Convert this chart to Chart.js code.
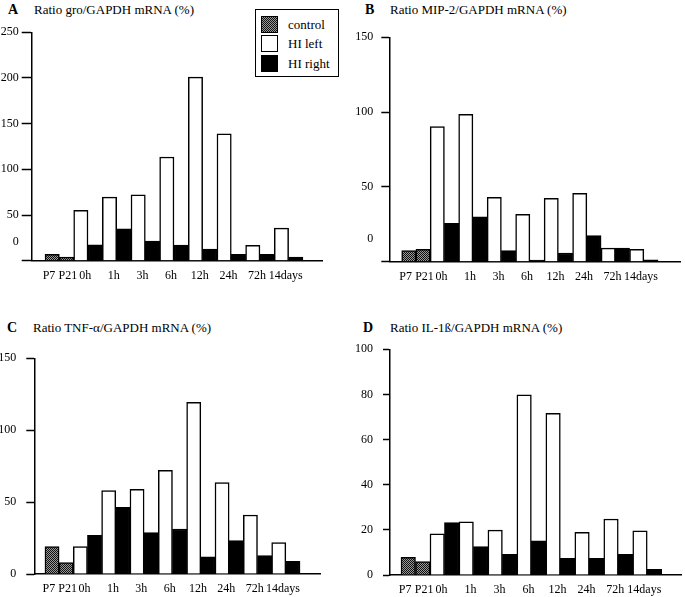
<!DOCTYPE html>
<html>
<head>
<meta charset="utf-8">
<script src="https://cdn.jsdelivr.net/npm/chart.js@4.4.0/dist/chart.umd.min.js"></script>
<style>
html,body{margin:0;padding:0;background:#fff;}
body{width:685px;height:597px;position:relative;overflow:hidden;font-family:'Liberation Serif','Times New Roman',serif;color:#000;}
canvas{position:absolute;}
.ttl{position:absolute;font-size:13px;line-height:13px;white-space:nowrap;}
.ttl.letter{font-weight:bold;font-size:14px;}
#legend{position:absolute;left:255px;top:9px;width:84px;height:68px;border:1.5px solid #000;box-sizing:border-box;background:#fff;z-index:5;}
#legend .row{position:absolute;left:5px;height:17px;}
#legend .sw{position:absolute;left:0;top:0;width:17px;height:17px;box-sizing:border-box;border:1.5px solid #000;}
#legend .tx{position:absolute;left:27px;top:0;font-size:13px;line-height:17px;white-space:nowrap;}
.sw.control{background:repeating-conic-gradient(#111 0 25%, #999 0 50%) 0 0/2px 2px;}
.sw.left{background:#fff;}
.sw.right{background:#000;}
</style>
</head>
<body>
<div class="ttl letter" style="left:8px;top:3px;">A</div>
<div class="ttl" style="left:34px;top:3px;">Ratio gro/GAPDH mRNA (%)</div>
<div class="ttl letter" style="left:365px;top:3px;">B</div>
<div class="ttl" style="left:390px;top:3px;">Ratio MIP-2/GAPDH mRNA (%)</div>
<div class="ttl letter" style="left:7px;top:321px;">C</div>
<div class="ttl" style="left:33px;top:321px;">Ratio TNF-α/GAPDH mRNA (%)</div>
<div class="ttl letter" style="left:363px;top:321px;">D</div>
<div class="ttl" style="left:390px;top:321px;">Ratio IL-1ß/GAPDH mRNA (%)</div>
<div id="legend"></div>

<canvas id="cA" width="342" height="295" style="left:0;top:0;"></canvas>
<canvas id="cB" width="343" height="295" style="left:342px;top:0;"></canvas>
<canvas id="cC" width="342" height="297" style="left:0;top:300px;"></canvas>
<canvas id="cD" width="343" height="297" style="left:342px;top:300px;"></canvas>

<script>
// ---- categories ----
const controlLabels = ['P7', 'P21'];
const timeLabels = ['0h', '1h', '3h', '6h', '12h', '24h', '72h', '14days'];
const seriesNames = ['control', 'HI left', 'HI right'];

// ---- A: gro ----
const groControl = [7, 4];
const groLeft  = [55, 69.5, 72, 113.5, 201, 139, 16.7, 35.6];
const groRight = [17.5, 35, 21.5, 17, 12.7, 7, 7, 4];
const groTicks = [0, 21, 50, 100, 150, 200, 250];
const groTickLabels = ['', '0', '50', '100', '150', '200', '250'];

// ---- B: MIP-2 ----
const mipControl = [7.4, 8.2];
const mipLeft  = [90.3, 98.5, 43, 31.6, 42.3, 45.7, 9.1, 8.2];
const mipRight = [25.6, 30, 7.4, 1.1, 5.8, 17.4, 9.1, 1.3];
const mipTicks = [0, 15, 50, 100, 150];
const mipTickLabels = ['', '0', '50', '100', '150'];

// ---- C: TNF-alpha ----
const tnfControl = [19, 7.9];
const tnfLeft  = [19, 58, 58.9, 72.1, 119.4, 63.5, 41, 21.8];
const tnfRight = [26.9, 46.4, 28.8, 31.3, 12, 23.2, 12.8, 8.8];
const tnfTicks = [0, 50, 100, 150];
const tnfTickLabels = ['0', '50', '100', '150'];

// ---- D: IL-1beta ----
const il1Control = [7.8, 5.9];
const il1Left  = [18.2, 23.6, 19.9, 79.8, 71.6, 18.9, 24.8, 19.6];
const il1Right = [23.2, 12.6, 9.2, 15.1, 7.4, 7.4, 9.2, 2.5];
const il1Ticks = [0, 20, 40, 60, 80, 100];
const il1TickLabels = ['0', '20', '40', '60', '80', '100'];

// x tick labels derived from the categories (label sits slightly left of pair centre, as in the figure)
const nC = controlLabels.length;
const xTickLabels = controlLabels.concat(timeLabels);
const xTickPos = [-0.22, 1.1].concat(timeLabels.map((_, i) => nC + 2 * i + 0.3));

// control bar pattern
function makePattern() {
  const c = document.createElement('canvas');
  c.width = 2; c.height = 2;
  const g = c.getContext('2d');
  g.fillStyle = '#999'; g.fillRect(0, 0, 2, 2);
  g.fillStyle = '#111'; g.fillRect(0, 0, 1, 1); g.fillRect(1, 1, 1, 1);
  return g.createPattern(c, 'repeat');
}

// legend
const legendEl = document.getElementById('legend');
const swCls = ['control', 'left', 'right'];
const rowTops = [5.5, 24.5, 45];
seriesNames.forEach((n, i) => {
  const r = document.createElement('div');
  r.className = 'row';
  r.style.top = rowTops[i] + 'px';
  r.innerHTML = '<div class="sw ' + swCls[i] + '"></div><div class="tx">' + n + '</div>';
  legendEl.appendChild(r);
});

Chart.defaults.font.family = "'Liberation Serif', 'Times New Roman', serif";
Chart.defaults.font.size = 12;
Chart.defaults.color = '#000';

const panels = [
  {id: 'cA', control: groControl, left: groLeft, right: groRight, yMax: 250, yTicks: groTicks, yTickLabels: groTickLabels, zeroLabelAt: 21,
   yWidth: 31.7, padding: {left: 0, top: 32.3, right: 20, bottom: 12.3}, xMin: -1.43, xMax: 18.83, tickLen: 10, tickPad: 3},
  {id: 'cB', control: mipControl, left: mipLeft, right: mipRight, yMax: 150, yTicks: mipTicks, yTickLabels: mipTickLabels, zeroLabelAt: 15,
   yWidth: 47.3, padding: {left: 0, top: 37.3, right: 5, bottom: 11.3}, xMin: -1.37, xMax: 19.04, tickLen: 8, tickPad: 8},
  {id: 'cC', control: tnfControl, left: tnfLeft, right: tnfRight, yMax: 150, yTicks: tnfTicks, yTickLabels: tnfTickLabels, zeroLabelAt: null,
   yWidth: 34.3, padding: {left: 0, top: 58.3, right: 22, bottom: 1}, xMin: -1.25, xMax: 18.91, tickLen: 8, tickPad: 10},
  {id: 'cD', control: il1Control, left: il1Left, right: il1Right, yMax: 100, yTicks: il1Ticks, yTickLabels: il1TickLabels, zeroLabelAt: null,
   yWidth: 48, padding: {left: 0, top: 49.3, right: 3.3, bottom: 0}, xMin: -1.26, xMax: 18.88, tickLen: 7, tickPad: 10}
];

const pattern = makePattern();

panels.forEach(p => {
  const ctrlData = p.control.map((v, i) => ({x: i, y: v}));
  const leftData = p.left.map((v, i) => ({x: nC + 2 * i, y: v}));
  const rightData = p.right.map((v, i) => ({x: nC + 2 * i + 1, y: v}));
  new Chart(document.getElementById(p.id), {
    type: 'bar',
    data: {
      datasets: [
        {label: seriesNames[0], data: ctrlData, backgroundColor: pattern, borderColor: '#000', borderWidth: 1.5},
        {label: seriesNames[1], data: leftData, backgroundColor: '#fff', borderColor: '#000', borderWidth: 1.5},
        {label: seriesNames[2], data: rightData, backgroundColor: '#000', borderColor: '#000', borderWidth: 1.5}
      ]
    },
    options: {
      responsive: false,
      animation: false,
      devicePixelRatio: 1,
      events: [],
      layout: {padding: p.padding},
      datasets: {bar: {grouped: false, barPercentage: 1, categoryPercentage: 1}},
      plugins: {legend: {display: false}, tooltip: {enabled: false}, title: {display: false}},
      scales: {
        x: {
          type: 'linear', min: p.xMin, max: p.xMax, offset: false,
          grid: {display: false, drawTicks: false, offset: false},
          border: {display: true, color: '#000', width: 1.5},
          ticks: {autoSkip: false, maxRotation: 0, minRotation: 0, padding: 8,
                  callback: (v, i) => xTickLabels[i]},
          afterBuildTicks: s => { s.ticks = xTickPos.map(v => ({value: v})); },
          afterFit: s => { s.height = 22; }
        },
        y: {
          type: 'linear', min: 0, max: p.yMax,
          grid: {display: true, drawOnChartArea: false, drawTicks: true, tickLength: p.tickLen, tickWidth: 1.5,
                 tickColor: c => (c.tick && p.zeroLabelAt !== null && c.tick.value === p.zeroLabelAt) ? 'rgba(0,0,0,0)' : '#000'},
          border: {display: true, color: '#000', width: 1.5},
          ticks: {padding: p.tickPad, autoSkip: false, callback: (v, i) => p.yTickLabels[i]},
          afterBuildTicks: s => { s.ticks = p.yTicks.map(v => ({value: v})); },
          afterFit: s => { s.width = p.yWidth; }
        }
      }
    }
  });
});
</script>
</body>
</html>
